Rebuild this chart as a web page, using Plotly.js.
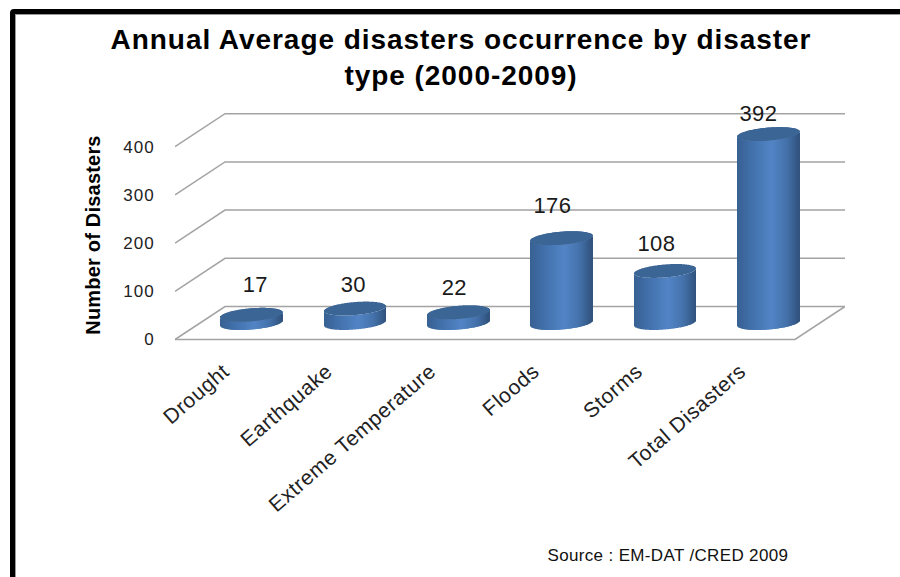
<!DOCTYPE html>
<html>
<head>
<meta charset="utf-8">
<script src="https://cdn.plot.ly/plotly-3.0.1.min.js"></script>
<style>
  html, body { margin: 0; padding: 0; background: #fff; width: 900px; height: 577px; overflow: hidden; }
  #frame { position: absolute; left: 10px; top: 9px; width: 900px; height: 600px;
           border: 5px solid #000; border-top-left-radius: 4px; box-shadow: inset 1px 1px 0 #999; }
  #chart { position: absolute; left: 0; top: 0; width: 900px; height: 577px; }
  #chart .gtitle { letter-spacing: 0.95px; }
  #chart .ytick text { letter-spacing: 1px; }
  #chart .xtick text { letter-spacing: 0.6px; }
  #chart .ytitle { letter-spacing: 0.2px; }
  #chart .annotation-text { letter-spacing: 0.35px; }
</style>
</head>
<body>
<div id="frame"></div>
<div id="chart"></div>
<script>
// Disaster counts per type
const categories = ["Drought", "Earthquake", "Extreme Temperature", "Floods", "Storms", "Total Disasters"];
const values = [17, 30, 22, 176, 108, 392];
const yTicks = [0, 100, 200, 300, 400];

// Hand-placed offsets of the value labels, in pixels
const labelShiftX = [3, -2, -4, -9, -9, -10];
const labelShiftY = [-30, -24, -25, -33, -27, -21];

// Oblique box geometry, in pixels
const W = 900, H = 577;
const left = 175, right = 845, top_ = 110, bottom = 360;
const pxPerCat = 620 / 6, pxPerUnit = 0.482;
const depthX = 50, depthY = 33;

// Cylinder geometry, in pixels
const radius = 31, capB = 6.5, capShear = 2.5;

const plotW = right - left, plotH = bottom - top_;
const floorPx = 339.5;
const xRange = [-0.5, -0.5 + plotW / pxPerCat];
const yRange = [-(bottom - floorPx) / pxPerUnit, (floorPx - top_) / pxPerUnit];
const dxCat = depthX / pxPerCat, dyVal = depthY / pxPerUnit;

// Gridlines: wall lines running back from the front edge, plus the floor outline
const gridX = [], gridY = [];
yTicks.forEach(t => {
  gridX.push(-0.5, -0.5 + dxCat, 5.5 + dxCat, null);
  gridY.push(t, t + dyVal, t + dyVal, null);
});
gridX.push(-0.5, 5.5, 5.5 + dxCat);
gridY.push(0, 0, dyVal);

const stops = [[-1, [56, 96, 146]], [-0.5, [66, 113, 172]], [0.1, [82, 133, 198]], [0.6, [68, 113, 170]], [1, [48, 82, 124]]];
function shade(u) {
  for (let i = 1; i < stops.length; i++) {
    if (u <= stops[i][0]) {
      const f = (u - stops[i - 1][0]) / (stops[i][0] - stops[i - 1][0]);
      const c = stops[i - 1][1].map((a, k) => Math.round(a + (stops[i][1][k] - a) * f));
      return `rgb(${c[0]},${c[1]},${c[2]})`;
    }
  }
  return 'rgb(48,82,124)';
}

// Each cylinder is a run of one-pixel bars whose ends follow the elliptical rim
const bodyX = [], bodyBase = [], bodyY = [], bodyC = [];
const capX = [], capBase = [], capY = [];
values.forEach((v, i) => {
  for (let d = -radius + 0.5; d < radius; d += 1) {
    const u = d / radius;
    const arc = capB * Math.sqrt(1 - u * u);
    const front = (arc - capShear * u) / pxPerUnit;
    const back = (-arc - capShear * u) / pxPerUnit;
    bodyX.push(i + d / pxPerCat);
    bodyBase.push(-front);
    bodyY.push(v);
    bodyC.push(shade(u));
    capX.push(i + d / pxPerCat);
    capBase.push(v - front);
    capY.push(front - back);
  }
});

const traces = [
  { type: 'scatter', mode: 'lines', x: gridX, y: gridY, xaxis: 'x', yaxis: 'y',
    line: { color: '#a3a3a3', width: 1.5 }, hoverinfo: 'skip', showlegend: false },
  { type: 'bar', x: bodyX, y: bodyY, base: bodyBase, width: 1 / pxPerCat, xaxis: 'x2', yaxis: 'y2',
    marker: { color: bodyC, line: { width: 0 } }, hoverinfo: 'skip', showlegend: false },
  { type: 'bar', x: capX, y: capY, base: capBase, width: 1 / pxPerCat, xaxis: 'x2', yaxis: 'y2',
    marker: { color: '#3b6594', line: { width: 0 } }, hoverinfo: 'skip', showlegend: false }
];

const tickFont = { family: 'Liberation Sans, Arial, sans-serif', color: '#222' };
const paperX = px => (px - left) / plotW;
const paperY = py => (bottom - py) / plotH;

const layout = {
  width: W, height: H,
  paper_bgcolor: 'rgba(0,0,0,0)', plot_bgcolor: 'rgba(0,0,0,0)',
  margin: { l: left, r: W - right, t: top_, b: H - bottom, pad: 0 },
  barmode: 'overlay', showlegend: false,
  title: { text: 'Annual Average disasters occurrence by disaster<br>type (2000-2009)',
           x: 461 / W, xref: 'container', xanchor: 'center', y: 1 - 49 / H, yref: 'container', yanchor: 'top',
           font: { family: 'Liberation Sans, Arial, sans-serif', size: 28, color: '#000', weight: 700 } },
  xaxis: { domain: [0, 1], range: xRange, tickmode: 'array', tickvals: categories.map((c, i) => i), ticktext: categories,
           tickangle: -41, ticks: '', ticklabelstandoff: -6, ticklabelshift: -3,
           tickfont: Object.assign({ size: 21 }, tickFont),
           showgrid: false, zeroline: false, showline: false, fixedrange: true },
  yaxis: { domain: [0, 1], range: yRange, tickmode: 'array', tickvals: yTicks,
           ticks: 'outside', ticklen: 16, tickcolor: 'rgba(0,0,0,0)',
           tickfont: Object.assign({ size: 17 }, tickFont),
           title: { text: '<b>Number of Disasters</b>', standoff: 20,
                    font: { family: 'Liberation Sans, Arial, sans-serif', size: 20, color: '#000' } },
           showgrid: false, zeroline: false, showline: false, fixedrange: true },
  xaxis2: { overlaying: 'x', anchor: 'y2', range: [xRange[0] - dxCat / 2, xRange[1] - dxCat / 2], visible: false, fixedrange: true },
  yaxis2: { overlaying: 'y', anchor: 'x2', range: [yRange[0] - (floorPx - 323) / pxPerUnit, yRange[1] - (floorPx - 323) / pxPerUnit], visible: false, fixedrange: true },
  annotations: values.map((v, i) => ({
    xref: 'x2', yref: 'y2', x: i, y: v, text: String(v), showarrow: false,
    xshift: labelShiftX[i], yshift: -labelShiftY[i], xanchor: 'center', yanchor: 'middle',
    font: { family: 'Liberation Sans, Arial, sans-serif', size: 22, color: '#1a1a1a' }
  })).concat([{
    xref: 'paper', yref: 'paper', x: paperX(550), y: paperY(555), xanchor: 'left', yanchor: 'middle',
    text: 'Source : EM-DAT /CRED 2009', showarrow: false,
    font: { family: 'Liberation Sans, Arial, sans-serif', size: 17, color: '#111' }
  }])
};

Plotly.newPlot('chart', traces, layout, { displayModeBar: false, responsive: false });
</script>
</body>
</html>
